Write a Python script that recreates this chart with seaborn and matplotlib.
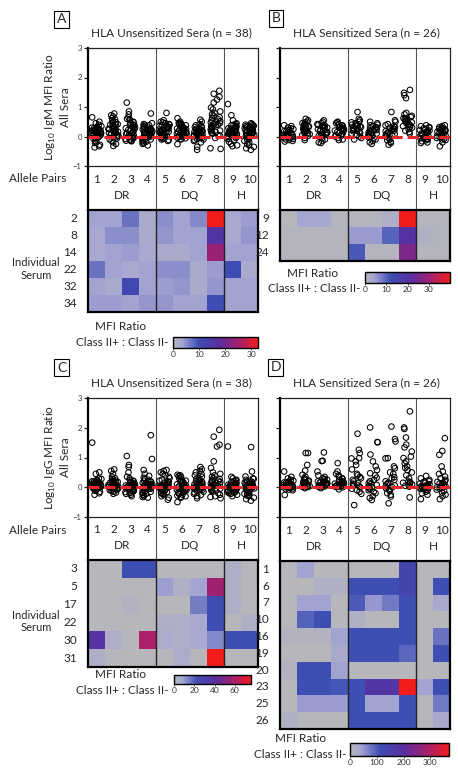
import numpy as np
import pandas as pd
import matplotlib
matplotlib.use("Agg")
import matplotlib.pyplot as plt
import seaborn as sns
from matplotlib.colors import LinearSegmentedColormap, Normalize
from matplotlib.cm import ScalarMappable

# ---------------- data ----------------
pairs = [str(i) for i in range(1, 11)]
groups = ["DR", "DQ", "H"]
group_centers = [1.5, 5.5, 8.5]

# Panel A: log10 IgM MFI ratio, HLA unsensitized sera (n = 38)
igm_unsens = [
    [0.65, 0.5, 0.45, 0.4, 0.35, 0.32, 0.3, 0.3, 0.28, 0.26, 0.25, 0.24, 0.22, 0.2, 0.2, 0.18, 0.17, 0.15, 0.14, 0.12, 0.1, 0.1, 0.08, 0.06, 0.05, 0.04, 0.02, 0.0, -0.02, -0.05, -0.08, -0.1, -0.15, -0.2, -0.22, -0.28, -0.33, -0.37],
    [0.78, 0.72, 0.68, 0.62, 0.58, 0.55, 0.5, 0.48, 0.45, 0.42, 0.4, 0.38, 0.36, 0.34, 0.32, 0.3, 0.28, 0.26, 0.24, 0.22, 0.2, 0.18, 0.16, 0.14, 0.12, 0.1, 0.08, 0.06, 0.04, 0.02, 0.0, -0.03, -0.06, -0.1, -0.15, -0.2, -0.25, -0.32],
    [1.15, 0.85, 0.75, 0.65, 0.6, 0.58, 0.55, 0.5, 0.48, 0.45, 0.42, 0.4, 0.38, 0.35, 0.32, 0.3, 0.28, 0.25, 0.22, 0.2, 0.18, 0.15, 0.12, 0.1, 0.08, 0.06, 0.04, 0.02, 0.0, -0.02, -0.04, -0.06, -0.08, -0.1, -0.12, -0.14, -0.15, -0.16],
    [0.78, 0.45, 0.42, 0.4, 0.38, 0.35, 0.32, 0.3, 0.28, 0.26, 0.25, 0.24, 0.22, 0.2, 0.18, 0.16, 0.15, 0.14, 0.12, 0.1, 0.08, 0.06, 0.05, 0.04, 0.02, 0.0, -0.02, -0.04, -0.06, -0.08, -0.1, -0.12, -0.15, -0.18, -0.2, -0.22, -0.25, -0.3],
    [0.8, 0.55, 0.5, 0.48, 0.45, 0.42, 0.4, 0.38, 0.36, 0.34, 0.32, 0.3, 0.3, 0.28, 0.26, 0.25, 0.24, 0.22, 0.2, 0.18, 0.16, 0.15, 0.14, 0.12, 0.1, 0.08, 0.06, 0.05, 0.04, 0.02, 0.0, -0.02, -0.04, -0.06, -0.08, -0.1, -0.12, -0.15],
    [0.62, 0.5, 0.46, 0.44, 0.42, 0.4, 0.38, 0.35, 0.32, 0.3, 0.28, 0.27, 0.26, 0.25, 0.24, 0.22, 0.2, 0.19, 0.18, 0.16, 0.15, 0.14, 0.12, 0.1, 0.09, 0.08, 0.06, 0.05, 0.04, 0.02, 0.01, 0.0, -0.02, -0.04, -0.06, -0.08, -0.1, -0.26],
    [0.57, 0.5, 0.42, 0.38, 0.35, 0.32, 0.3, 0.28, 0.26, 0.25, 0.24, 0.22, 0.2, 0.19, 0.18, 0.16, 0.15, 0.14, 0.12, 0.1, 0.09, 0.08, 0.06, 0.05, 0.04, 0.02, 0.01, 0.0, -0.02, -0.04, -0.06, -0.08, -0.1, -0.12, -0.15, -0.2, -0.35, -0.45],
    [1.55, 1.45, 1.35, 1.25, 1.15, 0.98, 0.92, 0.85, 0.8, 0.75, 0.7, 0.65, 0.62, 0.58, 0.55, 0.52, 0.5, 0.48, 0.45, 0.42, 0.4, 0.38, 0.35, 0.32, 0.3, 0.28, 0.25, 0.22, 0.2, 0.18, 0.15, 0.12, 0.1, 0.05, 0.02, -0.05, -0.4, -0.42],
    [1.1, 0.72, 0.55, 0.45, 0.42, 0.4, 0.38, 0.36, 0.34, 0.32, 0.3, 0.28, 0.26, 0.25, 0.24, 0.22, 0.2, 0.19, 0.18, 0.16, 0.15, 0.14, 0.12, 0.1, 0.08, 0.06, 0.05, 0.04, 0.02, 0.0, -0.02, -0.05, -0.08, -0.12, -0.18, -0.25, -0.3, -0.33],
    [0.45, 0.42, 0.4, 0.38, 0.36, 0.35, 0.33, 0.32, 0.3, 0.28, 0.26, 0.25, 0.24, 0.22, 0.2, 0.18, 0.16, 0.15, 0.14, 0.12, 0.1, 0.08, 0.06, 0.05, 0.04, 0.02, 0.0, -0.02, -0.05, -0.08, -0.1, -0.15, -0.2, -0.25, -0.3, -0.35, -0.4, -0.45],
]

# Panel B: log10 IgM MFI ratio, HLA sensitized sera (n = 26)
igm_sens = [
    [0.38, 0.35, 0.3, 0.28, 0.25, 0.22, 0.2, 0.18, 0.16, 0.15, 0.12, 0.1, 0.08, 0.07, 0.05, 0.04, 0.02, 0.0, -0.02, -0.04, -0.06, -0.08, -0.1, -0.12, -0.15, -0.17],
    [0.6, 0.55, 0.5, 0.48, 0.45, 0.42, 0.4, 0.38, 0.36, 0.34, 0.32, 0.3, 0.28, 0.26, 0.24, 0.22, 0.2, 0.18, 0.15, 0.12, 0.1, 0.08, 0.05, 0.02, -0.05, -0.12],
    [0.55, 0.5, 0.45, 0.42, 0.4, 0.38, 0.35, 0.32, 0.3, 0.28, 0.25, 0.22, 0.2, 0.18, 0.15, 0.12, 0.1, 0.08, 0.05, 0.02, 0.0, -0.05, -0.1, -0.15, -0.2, -0.22],
    [0.5, 0.48, 0.45, 0.42, 0.4, 0.38, 0.36, 0.34, 0.32, 0.3, 0.28, 0.26, 0.24, 0.22, 0.2, 0.18, 0.15, 0.12, 0.1, 0.08, 0.05, 0.02, 0.0, -0.05, -0.1, -0.12],
    [0.83, 0.6, 0.55, 0.5, 0.48, 0.45, 0.42, 0.4, 0.38, 0.36, 0.34, 0.32, 0.3, 0.28, 0.26, 0.24, 0.22, 0.2, 0.18, 0.15, 0.12, 0.1, 0.05, 0.0, -0.05, -0.1],
    [0.5, 0.45, 0.4, 0.38, 0.35, 0.32, 0.3, 0.28, 0.25, 0.22, 0.2, 0.18, 0.15, 0.12, 0.1, 0.08, 0.06, 0.04, 0.02, 0.0, -0.03, -0.06, -0.1, -0.15, -0.2, -0.25],
    [0.83, 0.55, 0.5, 0.42, 0.38, 0.35, 0.32, 0.3, 0.28, 0.25, 0.22, 0.2, 0.18, 0.15, 0.12, 0.1, 0.08, 0.05, 0.02, 0.0, -0.05, -0.1, -0.12, -0.18, -0.22, -0.28],
    [1.58, 1.48, 1.4, 1.3, 0.8, 0.75, 0.7, 0.66, 0.62, 0.6, 0.58, 0.55, 0.52, 0.5, 0.48, 0.45, 0.42, 0.4, 0.38, 0.35, 0.32, 0.3, 0.25, 0.2, 0.15, 0.1],
    [0.38, 0.35, 0.32, 0.3, 0.28, 0.25, 0.22, 0.2, 0.18, 0.15, 0.12, 0.1, 0.08, 0.06, 0.04, 0.02, 0.0, -0.02, -0.04, -0.06, -0.08, -0.1, -0.13, -0.16, -0.2, -0.22],
    [0.38, 0.35, 0.32, 0.3, 0.28, 0.26, 0.24, 0.22, 0.2, 0.18, 0.16, 0.14, 0.12, 0.1, 0.08, 0.06, 0.04, 0.02, 0.0, -0.02, -0.05, -0.08, -0.1, -0.12, -0.2, -0.33],
]

# Panel C: log10 IgG MFI ratio, HLA unsensitized sera (n = 38)
igg_unsens = [
    [1.5, 0.5, 0.45, 0.3, 0.28, 0.25, 0.22, 0.2, 0.2, 0.18, 0.16, 0.15, 0.14, 0.12, 0.11, 0.1, 0.09, 0.08, 0.07, 0.06, 0.05, 0.04, 0.03, 0.02, 0.01, 0.0, 0.0, -0.01, -0.02, -0.03, -0.05, -0.06, -0.08, -0.1, -0.12, -0.15, -0.2, -0.25],
    [0.6, 0.55, 0.45, 0.35, 0.3, 0.28, 0.25, 0.22, 0.2, 0.18, 0.16, 0.15, 0.14, 0.12, 0.11, 0.1, 0.09, 0.08, 0.07, 0.06, 0.05, 0.04, 0.03, 0.02, 0.01, 0.0, -0.01, -0.02, -0.03, -0.04, -0.05, -0.06, -0.08, -0.1, -0.12, -0.15, -0.18, -0.22],
    [1.05, 0.75, 0.68, 0.5, 0.35, 0.3, 0.25, 0.22, 0.2, 0.18, 0.15, 0.14, 0.12, 0.1, 0.09, 0.08, 0.06, 0.05, 0.04, 0.03, 0.02, 0.01, 0.0, -0.01, -0.02, -0.04, -0.05, -0.06, -0.08, -0.1, -0.12, -0.14, -0.16, -0.18, -0.2, -0.22, -0.25, -0.3],
    [1.75, 0.95, 0.58, 0.45, 0.38, 0.32, 0.28, 0.25, 0.22, 0.2, 0.18, 0.15, 0.12, 0.1, 0.09, 0.08, 0.06, 0.05, 0.04, 0.02, 0.01, 0.0, -0.01, -0.02, -0.04, -0.05, -0.06, -0.08, -0.1, -0.12, -0.15, -0.18, -0.2, -0.22, -0.25, -0.3, -0.33, -0.35],
    [0.58, 0.55, 0.5, 0.45, 0.4, 0.35, 0.3, 0.25, 0.22, 0.2, 0.18, 0.15, 0.12, 0.1, 0.08, 0.06, 0.05, 0.04, 0.02, 0.01, 0.0, -0.01, -0.02, -0.04, -0.05, -0.06, -0.08, -0.1, -0.12, -0.14, -0.16, -0.18, -0.2, -0.22, -0.25, -0.3, -0.35, -0.42],
    [0.42, 0.4, 0.38, 0.35, 0.3, 0.25, 0.22, 0.2, 0.18, 0.15, 0.12, 0.1, 0.08, 0.06, 0.05, 0.04, 0.02, 0.01, 0.0, -0.01, -0.02, -0.04, -0.05, -0.06, -0.08, -0.1, -0.12, -0.14, -0.16, -0.18, -0.2, -0.22, -0.25, -0.28, -0.3, -0.32, -0.35, -0.5],
    [0.68, 0.6, 0.55, 0.5, 0.45, 0.4, 0.35, 0.3, 0.28, 0.25, 0.22, 0.2, 0.18, 0.15, 0.12, 0.1, 0.09, 0.08, 0.06, 0.05, 0.04, 0.02, 0.01, 0.0, -0.01, -0.02, -0.04, -0.05, -0.06, -0.08, -0.1, -0.12, -0.15, -0.18, -0.22, -0.26, -0.3, -0.37],
    [1.93, 1.7, 1.43, 1.37, 0.87, 0.65, 0.5, 0.45, 0.4, 0.35, 0.3, 0.28, 0.25, 0.22, 0.2, 0.18, 0.15, 0.12, 0.1, 0.08, 0.06, 0.05, 0.04, 0.02, 0.01, 0.0, -0.02, -0.04, -0.05, -0.08, -0.1, -0.12, -0.15, -0.2, -0.25, -0.3, -0.33, -0.37],
    [1.37, 0.35, 0.3, 0.25, 0.22, 0.2, 0.18, 0.15, 0.14, 0.12, 0.1, 0.09, 0.08, 0.07, 0.06, 0.05, 0.04, 0.03, 0.02, 0.01, 0.0, 0.0, -0.01, -0.02, -0.03, -0.04, -0.05, -0.06, -0.08, -0.1, -0.12, -0.14, -0.16, -0.18, -0.2, -0.22, -0.25, -0.3],
    [1.35, 0.53, 0.36, 0.3, 0.28, 0.25, 0.22, 0.2, 0.18, 0.15, 0.12, 0.1, 0.09, 0.08, 0.06, 0.05, 0.04, 0.02, 0.01, 0.0, -0.01, -0.02, -0.04, -0.05, -0.06, -0.08, -0.1, -0.12, -0.15, -0.18, -0.2, -0.22, -0.25, -0.28, -0.3, -0.35, -0.4, -0.45],
]

# Panel D: log10 IgG MFI ratio, HLA sensitized sera (n = 26)
igg_sens = [
    [0.53, 0.35, 0.3, 0.25, 0.22, 0.2, 0.18, 0.16, 0.15, 0.14, 0.12, 0.1, 0.09, 0.08, 0.06, 0.05, 0.04, 0.02, 0.01, 0.0, -0.02, -0.04, -0.06, -0.08, -0.1, -0.26],
    [1.15, 1.15, 0.75, 0.56, 0.42, 0.35, 0.3, 0.28, 0.25, 0.22, 0.2, 0.18, 0.16, 0.15, 0.14, 0.12, 0.1, 0.09, 0.08, 0.06, 0.05, 0.04, 0.02, 0.01, 0.0, -0.03],
    [1.17, 0.89, 0.88, 0.53, 0.4, 0.35, 0.3, 0.28, 0.25, 0.22, 0.2, 0.18, 0.16, 0.15, 0.13, 0.12, 0.1, 0.08, 0.07, 0.06, 0.05, 0.04, 0.03, 0.02, 0.01, -0.03],
    [0.81, 0.53, 0.45, 0.4, 0.35, 0.3, 0.28, 0.25, 0.22, 0.2, 0.18, 0.16, 0.15, 0.13, 0.12, 0.1, 0.08, 0.07, 0.06, 0.05, 0.04, 0.03, 0.02, 0.01, 0.0, -0.07],
    [1.8, 1.26, 1.15, 0.98, 0.97, 0.87, 0.75, 0.6, 0.45, 0.4, 0.35, 0.3, 0.25, 0.2, 0.15, 0.12, 0.1, 0.08, 0.05, 0.02, 0.0, -0.05, -0.1, -0.15, -0.22, -0.6],
    [2.01, 1.52, 1.51, 1.1, 0.87, 0.7, 0.58, 0.47, 0.4, 0.32, 0.25, 0.2, 0.15, 0.12, 0.08, 0.05, 0.02, 0.0, -0.03, -0.06, -0.1, -0.15, -0.2, -0.3, -0.36, -0.43],
    [2.04, 1.62, 1.54, 0.98, 0.97, 0.7, 0.64, 0.5, 0.45, 0.34, 0.3, 0.25, 0.2, 0.15, 0.12, 0.1, 0.06, 0.03, 0.0, -0.04, -0.08, -0.12, -0.2, -0.25, -0.31, -0.54],
    [2.55, 2.01, 1.96, 1.67, 1.43, 1.34, 1.2, 1.03, 0.98, 0.87, 0.8, 0.7, 0.65, 0.58, 0.5, 0.4, 0.3, 0.19, 0.18, 0.15, 0.13, 0.1, 0.08, 0.05, 0.02, -0.34],
    [0.38, 0.3, 0.25, 0.2, 0.18, 0.15, 0.12, 0.1, 0.08, 0.06, 0.05, 0.04, 0.02, 0.01, 0.0, -0.01, -0.02, -0.04, -0.05, -0.06, -0.08, -0.1, -0.15, -0.2, -0.25, -0.4],
    [1.65, 1.22, 1.09, 0.7, 0.53, 0.45, 0.36, 0.3, 0.25, 0.2, 0.18, 0.15, 0.12, 0.1, 0.08, 0.05, 0.03, 0.0, -0.02, -0.05, -0.08, -0.12, -0.18, -0.25, -0.3, -0.4],
]

# Heatmaps: MFI ratio Class II+ : Class II- for individual sera
rows_A = ["2", "8", "14", "22", "32", "34"]
heat_A = [
    [3.5, 3.5, 7, 2.5, 5, 3.5, 5.5, 33, 3, 4],
    [3, 5, 5, 2.5, 4.5, 3.5, 3.5, 16, 3, 4.5],
    [3, 3.5, 4, 3, 2.5, 2.5, 3.5, 24, 3.5, 3.5],
    [7, 3.5, 3, 3.5, 5, 5, 2.5, 4, 10, 2.5],
    [3.5, 2.5, 11, 3.5, 4, 4.5, 2.5, 4.5, 3.5, 3.5],
    [4, 4, 3.5, 4.5, 4.5, 3.5, 3.5, 10, 3.5, 3.5],
]
rows_B = ["9", "12", "24"]
heat_B = [
    [0, 4, 4, 0.5, 0.5, 0.5, 2, 40, 0.5, 0.5],
    [0.5, 0.5, 0.5, 0.5, 5, 5, 10, 20, 1.5, 0.5],
    [0.5, 0.5, 0.5, 0.5, 11, 0.5, 0.5, 26, 0.5, 0.5],
]
rows_C = ["3", "5", "17", "22", "30", "31"]
heat_C = [
    [0, 0, 23, 23, 0, 0, 0, 0, 4, 0],
    [0, 0, 0, 0, 9, 3, 8, 58, 3, 0],
    [0, 0, 2, 0, 0, 0, 15, 24, 4, 0],
    [0, 0, 0, 0, 4, 4, 7, 24, 0, 3],
    [38, 4, 0, 60, 5, 4, 7, 13, 23, 23],
    [4, 0, 0, 0, 0, 5, 0, 76, 0, 0],
]
rows_D = ["1", "6", "7", "10", "16", "19", "20", "23", "25", "26"]
heat_D = [
    [0, 40, 0, 0, 0, 0, 0, 140, 0, 0],
    [0, 0, 15, 15, 110, 110, 110, 140, 0, 110],
    [0, 40, 40, 0, 100, 50, 75, 110, 0, 30],
    [0, 95, 110, 0, 15, 0, 0, 110, 0, 0],
    [10, 10, 10, 40, 110, 110, 110, 110, 0, 80],
    [0, 0, 0, 30, 110, 110, 110, 90, 0, 110],
    [10, 110, 110, 40, 0, 0, 0, 0, 0, 0],
    [0, 110, 110, 105, 110, 180, 180, 370, 40, 110],
    [0, 45, 45, 45, 110, 40, 40, 110, 0, 75],
    [15, 0, 0, 0, 110, 110, 110, 110, 0, 30],
]
cbar_ticks_A = [0, 10, 20, 30]
cbar_ticks_B = [0, 10, 20, 30]
cbar_ticks_C = [0, 20, 40, 60]
cbar_ticks_D = [0, 100, 200, 300]

# ---------------- style ----------------
sns.set_theme(style="white")
plt.rcParams["font.family"] = ["Lato", "DejaVu Sans"]
plt.rcParams["axes.linewidth"] = 0.9

W, H = 458, 773
fig = plt.figure(figsize=(W / 100, H / 100), dpi=100)

cmap = LinearSegmentedColormap.from_list(
    "mfi",
    [(0.0, "#b6b6bb"), (0.1, "#a6a6d3"), (0.3, "#3d4eb3"),
     (0.55, "#5b2c9e"), (0.78, "#a6206e"), (1.0, "#f21c1c")])


def axpx(x0, y0, x1, y1):
    return fig.add_axes([x0 / W, 1 - y1 / H, (x1 - x0) / W, (y1 - y0) / H])


def ftext(x, y, s, **kw):
    fig.text(x / W, 1 - y / H, s, **kw)


def panel(letter, lx, ly, title, tx, vals, x0, x1, sy0, sy1, ly1, hy1,
          heat, rows, vmax, cticks, cb, mfi_xy, cls_xy, ylabel):
    # letter box
    ftext(lx, ly, letter, ha="center", va="center", fontsize=10,
          bbox=dict(boxstyle="square,pad=0.18", fc="white", ec="black", lw=0.8))
    ftext(tx, sy0 - 15, title, ha="center", va="center", fontsize=8.5)

    # label strip (drawn first, transparent background)
    lab = axpx(x0, sy1, x1, ly1)
    lab.patch.set_visible(False)
    lab.set_xlim(-0.5, 9.5)
    lab.set_ylim(0, 1)
    lab.set_xticks([])
    lab.set_yticks([])
    lab.spines["top"].set_visible(False)
    lab.spines["bottom"].set_visible(False)
    lab.spines["right"].set_color("#333333")
    lab.spines["left"].set_color("black")
    lab.spines["left"].set_linewidth(1.6)
    for xv in (3.5, 7.5):
        lab.axvline(xv, color="#555555", lw=0.8)
    for i, p in enumerate(pairs):
        lab.text(i, 0.70, p, ha="center", va="center", fontsize=8.5)
    for g, gc in zip(groups, group_centers):
        lab.text(gc, 0.34, g, ha="center", va="center", fontsize=8.5)

    # scatter
    ax = axpx(x0, sy0, x1, sy1)
    df = pd.DataFrame({"pair": np.repeat(pairs, [len(v) for v in vals]),
                       "val": np.concatenate(vals)})
    np.random.seed(7)
    sns.stripplot(data=df, x="pair", y="val", order=pairs, jitter=0.3,
                  size=4.0, color="white", edgecolor="black", linewidth=0.75,
                  ax=ax, zorder=3)
    for c in ax.collections:
        c.set_facecolor("none")
        c.set_edgecolor("black")
        c.set_linewidth(0.75)
    ax.set_xlim(-0.5, 9.5)
    ax.set_ylim(-1, 3)
    ax.axhline(0, color="#e8262b", lw=2.2, ls=(0, (3.6, 1.6)), zorder=5)
    for xv in (3.5, 7.5):
        ax.axvline(xv, color="#555555", lw=0.8, zorder=1)
    ax.set_xlabel("")
    ax.set_ylabel("")
    ax.set_xticks([])
    ax.set_yticks([-1, 0, 1, 2, 3])
    ax.tick_params(axis="y", direction="out", length=3, width=0.9, pad=1.5,
                   labelsize=5.5, labelcolor="#333333", left=True,
                   labelleft=ylabel is not None)
    for s in ("top", "right", "bottom"):
        ax.spines[s].set_color("#222222")
        ax.spines[s].set_linewidth(0.9)
    ax.spines["left"].set_color("black")
    ax.spines["left"].set_linewidth(1.6)

    # heatmap
    hx = axpx(x0, ly1, x1, hy1)
    sns.heatmap(np.array(heat, dtype=float), ax=hx, cmap=cmap, vmin=0,
                vmax=vmax, cbar=False, xticklabels=False, yticklabels=rows)
    hx.tick_params(axis="y", left=False, labelsize=8.5, pad=2, rotation=0)
    hx.tick_params(axis="x", bottom=False)
    for s in hx.spines.values():
        s.set_visible(True)
        s.set_color("black")
        s.set_linewidth(1.6)
    for xv in (4, 8):
        hx.axvline(xv, color="#222222", lw=1.0)

    # colorbar
    cax = axpx(*cb)
    cbar = fig.colorbar(ScalarMappable(Normalize(0, vmax), cmap), cax=cax,
                        orientation="horizontal")
    cbar.set_ticks(cticks)
    cax.tick_params(labelsize=6, length=1.5, width=0.6, pad=1,
                    labelcolor="#333333")
    cbar.outline.set_linewidth(1.0)
    cbar.outline.set_edgecolor("black")
    ftext(mfi_xy[0], mfi_xy[1], "MFI Ratio", ha="center", va="center", fontsize=8.5)
    ftext(cls_xy[0], cls_xy[1], "Class II+ : Class II-", ha="right",
          va="center", fontsize=8.5)

    if ylabel is not None:
        ftext(57, (sy0 + sy1) / 2, ylabel, rotation=90, ha="center",
              va="center", fontsize=8.5, multialignment="center")
        ftext(66, sy1 + 13, "Allele Pairs", ha="right", va="center", fontsize=8.5)
        ftext(36, (ly1 + hy1) / 2 + 8, "Individual\nSerum", ha="center",
              va="center", fontsize=8, linespacing=1.15)


panel("A", 61.5, 19, "HLA Unsensitized Sera (n = 38)", 171, igm_unsens,
      88, 258, 48, 166, 210, 312, heat_A, rows_A, 32.5, cbar_ticks_A,
      (173, 337, 258, 348), (121, 327), (168, 343),
      "Log$_\\mathregular{10}$ IgM MFI Ratio\nAll Sera")
panel("B", 276, 18, "HLA Sensitized Sera (n = 26)", 366, igm_sens,
      280, 450, 48, 166, 210, 261, heat_B, rows_B, 40, cbar_ticks_B,
      (365, 272, 450, 283), (313, 273), (361, 288), None)
panel("C", 61.5, 367.5, "HLA Unsensitized Sera (n = 38)", 171, igg_unsens,
      88, 258, 398, 517, 560, 667, heat_C, rows_C, 76, cbar_ticks_C,
      (174, 675, 251, 684), (121, 675), (168, 690),
      "Log$_\\mathregular{10}$ IgG MFI Ratio\nAll Sera")
panel("D", 275.5, 367, "HLA Sensitized Sera (n = 26)", 366, igg_sens,
      280, 450, 398, 517, 561, 729, heat_D, rows_D, 370, cbar_ticks_D,
      (350, 743, 449, 756), (301, 739), (347, 755), None)

fig.savefig("out.png", dpi=100)
